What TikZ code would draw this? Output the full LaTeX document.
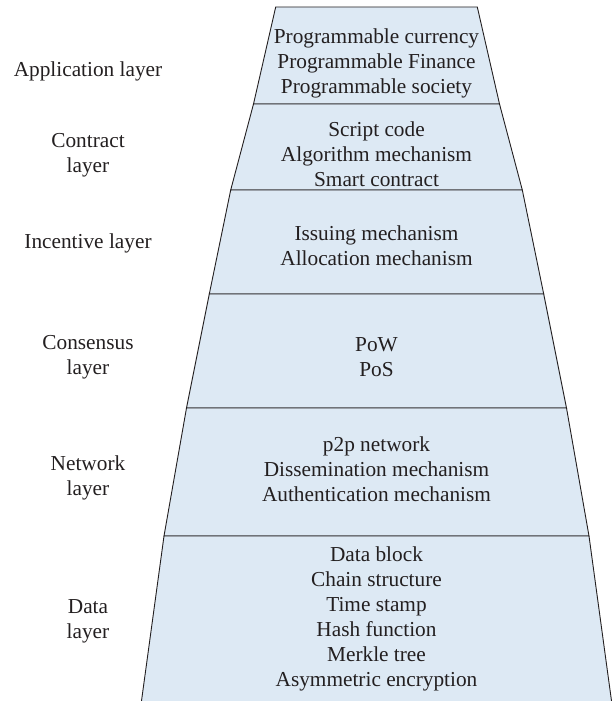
\documentclass[tikz,border=0pt]{standalone}
\usepackage{fontspec}
\setmainfont{Liberation Serif}
\definecolor{layerfill}{RGB}{221,233,244}
\definecolor{ink}{RGB}{35,31,32}
\begin{document}
\begin{tikzpicture}[x=1pt,y=-1pt,
  layer/.style={fill=layerfill,draw=ink,line width=0.9pt,line join=miter},
  body/.style={align=center,text=ink,font=\fontsize{21.3}{25}\selectfont,inner sep=0pt},
  tag/.style={body}]
\useasboundingbox (0,0) rectangle (613,701);
\clip (0,0) rectangle (613,701);
\def\cx{376.5}
% stacked trapezoids: top y / top half-width / bottom y / bottom half-width
\foreach \ya/\wa/\yb/\wb in {7/100.8/104/123, 104/123/190/145.8, 190/145.8/294/167.2,
    294/167.2/408/190, 408/190/536/212.5, 536/212.5/706/235.7}
  \draw[layer] (\cx-\wa,\ya) -- (\cx+\wa,\ya) -- (\cx+\wb,\yb) -- (\cx-\wb,\yb) -- cycle;

% contents of each layer
\node[body] (app)  at (\cx,63) {Programmable currency\\Programmable Finance\\Programmable society};
\node[body] (con)  at (\cx,154) {Script code\\Algorithm mechanism\\Smart contract};
\node[body] (inc)  at (\cx,246) {Issuing mechanism\\Allocation mechanism};
\node[body] (cns)  at (\cx,357) {PoW\\PoS};
\node[body] (net)  at (\cx,469) {p2p network\\Dissemination mechanism\\Authentication mechanism};
\node[body] (dat)  at (\cx,619) {Data block\\Chain structure\\Time stamp\\Hash function\\Merkle tree\\Asymmetric encryption};

% layer names
\node[tag] (tapp) at (88,71)  {Application layer};
\node[tag] (tcon) at (88,155) {Contract\\layer};
\node[tag] (tinc) at (88,243) {Incentive layer};
\node[tag] (tcns) at (88,357) {Consensus\\layer};
\node[tag] (tnet) at (88,478) {Network\\layer};
\node[tag] (tdat) at (88,621) {Data\\layer};
\end{tikzpicture}
\end{document}
